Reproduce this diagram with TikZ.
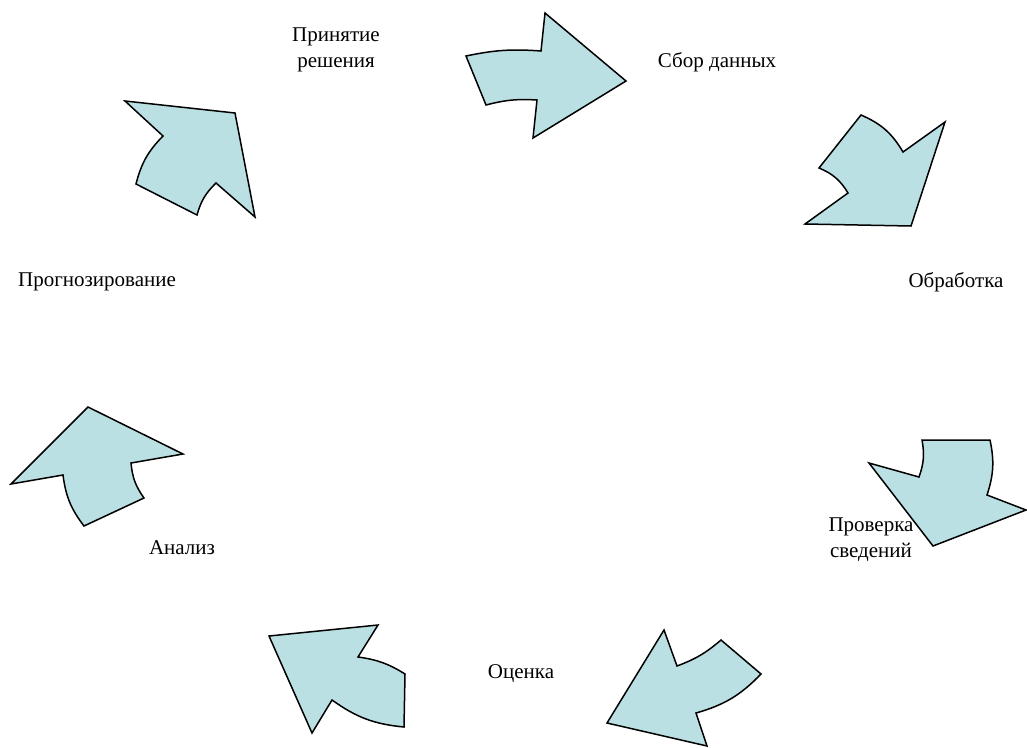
\documentclass[tikz,border=0pt]{standalone}
\usepackage{fontspec}
\setmainfont{Liberation Serif}
\definecolor{pfeilblau}{RGB}{187,224,227}

\begin{document}
\begin{tikzpicture}[
    x=1pt, y=-1pt,
    pfeil/.style={draw=black, fill=pfeilblau, line width=1.5pt, line join=miter},
    schritt/.style={anchor=base, align=center, font=\fontsize{21}{26}\selectfont}]
    \useasboundingbox (0, 0) rectangle (1027, 747);

    % Beschriftungen
    \node[schritt] (sammeln) at (717, 67) {Сбор данных};
    \node[schritt] (verarbeiten) at (956, 287) {Обработка};
    \node[schritt] (pruefen) at (871, 557) {Проверка\\сведений};
    \node[schritt] (bewerten) at (521, 678) {Оценка};
    \node[schritt] (analyse) at (182, 554) {Анализ};
    \node[schritt] (prognose) at (97, 286) {Прогнозирование};
    \node[schritt] (entscheiden) at (336, 67) {Принятие\\решения};

    % Pfeile
    \draw[pfeil] (466, 56) to[bend left=8] (541, 51) -- (545, 13) -- (626, 81)
                 -- (533, 138) -- (537, 100) to[bend right=9] (486, 105) -- cycle;
    \draw[pfeil] (861, 115) to[bend left=18] (903, 152) -- (945, 122) -- (911, 226)
                 -- (805, 224) -- (848, 193) to[bend right=18] (819, 168) -- cycle;
    \draw[pfeil] (922, 440) -- (990, 440) to[bend left=15] (987, 495) -- (1026, 510)
                 -- (933, 546) -- (869, 463) -- (919, 477) to[bend right=15] (922, 440) -- cycle;
    \draw[pfeil] (664, 630) -- (677, 666) to[bend right=10] (721, 640) -- (761, 674)
                 to[bend left=15] (696, 713) -- (707, 746) -- (607, 723) -- cycle;
    \draw[pfeil] (269, 636) -- (378, 625) -- (358, 657) to[bend left=12] (405, 674)
                 -- (404, 727) to[bend left=15] (332, 700) -- (312, 733) -- cycle;
    \draw[pfeil] (88, 407) -- (183, 454) -- (131, 463) to[bend right=15] (144, 498)
                 -- (84, 526) to[bend left=15] (63, 475) -- (11, 484) -- cycle;
    \draw[pfeil] (125, 101) -- (235, 113) -- (255, 217) -- (216, 183) to[bend right=15] (197, 215)
                 -- (136, 184) to[bend left=15] (163, 136) -- cycle;
\end{tikzpicture}
\end{document}
